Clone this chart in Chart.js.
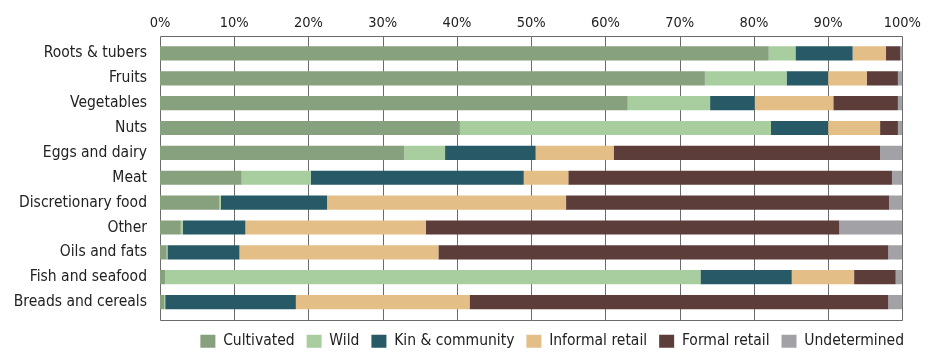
<!DOCTYPE html>
<html>
<head>
<meta charset="utf-8">
<script src="https://cdn.jsdelivr.net/npm/chart.js@4.4.1/dist/chart.umd.min.js"></script>
<style>
  html, body { margin: 0; padding: 0; background: #fff; }
  #wrap { width: 930px; height: 364px; }
</style>
</head>
<body>
<div id="wrap"><canvas id="chart" width="930" height="364"></canvas></div>
<script>
// Food groups, top to bottom
const categories = ['Roots & tubers', 'Fruits', 'Vegetables', 'Nuts', 'Eggs and dairy', 'Meat',
    'Discretionary food', 'Other', 'Oils and fats', 'Fish and seafood', 'Breads and cereals'];

// Share of each source (%)
const cultivated    = [82.0, 73.4, 63.0, 40.4, 32.9, 11.0,  8.0,  2.8,  0.9,  0.7,  0.6];
const wild          = [ 3.6, 11.0, 11.1, 41.9,  5.5,  9.3,  0.2,  0.3,  0.1, 72.1,  0.1];
const kinCommunity  = [ 7.7,  5.6,  6.0,  7.7, 12.2, 28.7, 14.3,  8.4,  9.7, 12.3, 17.6];
const informalRetail= [ 4.5,  5.2, 10.6,  7.0, 10.5,  6.0, 32.2, 24.3, 26.8,  8.4, 23.4];
const formalRetail  = [ 1.9,  4.2,  8.7,  2.4, 35.9, 43.6, 43.5, 55.7, 60.6,  5.6, 56.4];
const undetermined  = [ 0.4,  0.6,  0.6,  0.6,  3.0,  1.4,  1.9,  8.5,  1.9,  0.9,  1.9];

const tickValues = [0, 10, 20, 30, 40, 50, 60, 70, 80, 90, 100];

const colors = {
    cultivated: '#87a17f',
    wild: '#a8cd9f',
    kin: '#275a66',
    informal: '#e3be87',
    formal: '#5c3d3a',
    undetermined: '#a2a2a6'
};

const fontFamily = '"DejaVu Sans Condensed", "DejaVu Sans", sans-serif';
const frameInset = 5;   // plot frame sits a little outside the bars

function series(label, data, color) {
    return {
        label: label,
        data: data,
        xAxisID: 'x',
        yAxisID: 'y',
        backgroundColor: color,
        borderWidth: 0,
        barPercentage: 0.57,
        categoryPercentage: 1.0
    };
}

// Vertical grid lines and frame around the plot area
const frame = {
    id: 'frame',
    beforeDatasetsDraw(chart) {
        const a = chart.chartArea;
        const x = chart.scales.x;
        const ctx = chart.ctx;
        const top = Math.round(a.top - frameInset) + 0.5;
        const bottom = Math.round(a.bottom + frameInset) + 0.5;
        ctx.save();
        ctx.strokeStyle = '#6b6b6b';
        ctx.lineWidth = 1;
        ctx.beginPath();
        tickValues.forEach(v => {
            const px = Math.round(x.getPixelForValue(v)) + 0.5;
            ctx.moveTo(px, top);
            ctx.lineTo(px, bottom);
        });
        ctx.moveTo(Math.round(a.left) + 0.5, top);
        ctx.lineTo(Math.round(a.right) + 0.5, top);
        ctx.moveTo(Math.round(a.left) + 0.5, bottom);
        ctx.lineTo(Math.round(a.right) + 0.5, bottom);
        ctx.stroke();
        ctx.restore();
    }
};

new Chart(document.getElementById('chart'), {
    type: 'bar',
    data: {
        labels: categories,
        datasets: [
            series('Cultivated', cultivated, colors.cultivated),
            series('Wild', wild, colors.wild),
            series('Kin & community', kinCommunity, colors.kin),
            series('Informal retail', informalRetail, colors.informal),
            series('Formal retail', formalRetail, colors.formal),
            series('Undetermined', undetermined, colors.undetermined)
        ]
    },
    options: {
        indexAxis: 'y',
        responsive: false,
        animation: false,
        layout: { padding: { left: 0, right: 14, top: 0, bottom: 5 } },
        plugins: {
            tooltip: { enabled: false },
            legend: {
                position: 'bottom',
                align: 'end',
                labels: {
                    color: '#222',
                    font: { family: fontFamily, size: 15.5 },
                    boxWidth: 15,
                    boxHeight: 13,
                    padding: 12
                }
            }
        },
        scales: {
            x: {
                position: 'top',
                stacked: true,
                min: 0,
                max: 100,
                afterBuildTicks(axis) {
                    axis.ticks = tickValues.map(v => ({ value: v }));
                },
                afterFit(axis) { axis.height = 41; },
                ticks: {
                    color: '#222',
                    font: { family: fontFamily, size: 14.5 },
                    padding: 9,
                    callback: v => v + '%'
                },
                grid: { display: false, drawTicks: false },
                border: { display: false }
            },
            // empty strip under the plot, room for the lower frame edge
            xBottom: {
                type: 'linear',
                position: 'bottom',
                afterFit(axis) { axis.height = 7; },
                ticks: { display: false },
                grid: { display: false, drawTicks: false },
                border: { display: false }
            },
            // empty strip right of the plot
            yRight: {
                type: 'linear',
                position: 'right',
                afterFit(axis) { axis.width = 10; },
                ticks: { display: false },
                grid: { display: false, drawTicks: false },
                border: { display: false }
            },
            y: {
                stacked: true,
                afterFit(axis) { axis.width = 160; },
                ticks: {
                    color: '#222',
                    font: { family: fontFamily, size: 15.5 },
                    padding: 13
                },
                grid: { display: false, drawTicks: false },
                border: { display: false }
            }
        }
    },
    plugins: [frame]
});
</script>
</body>
</html>
